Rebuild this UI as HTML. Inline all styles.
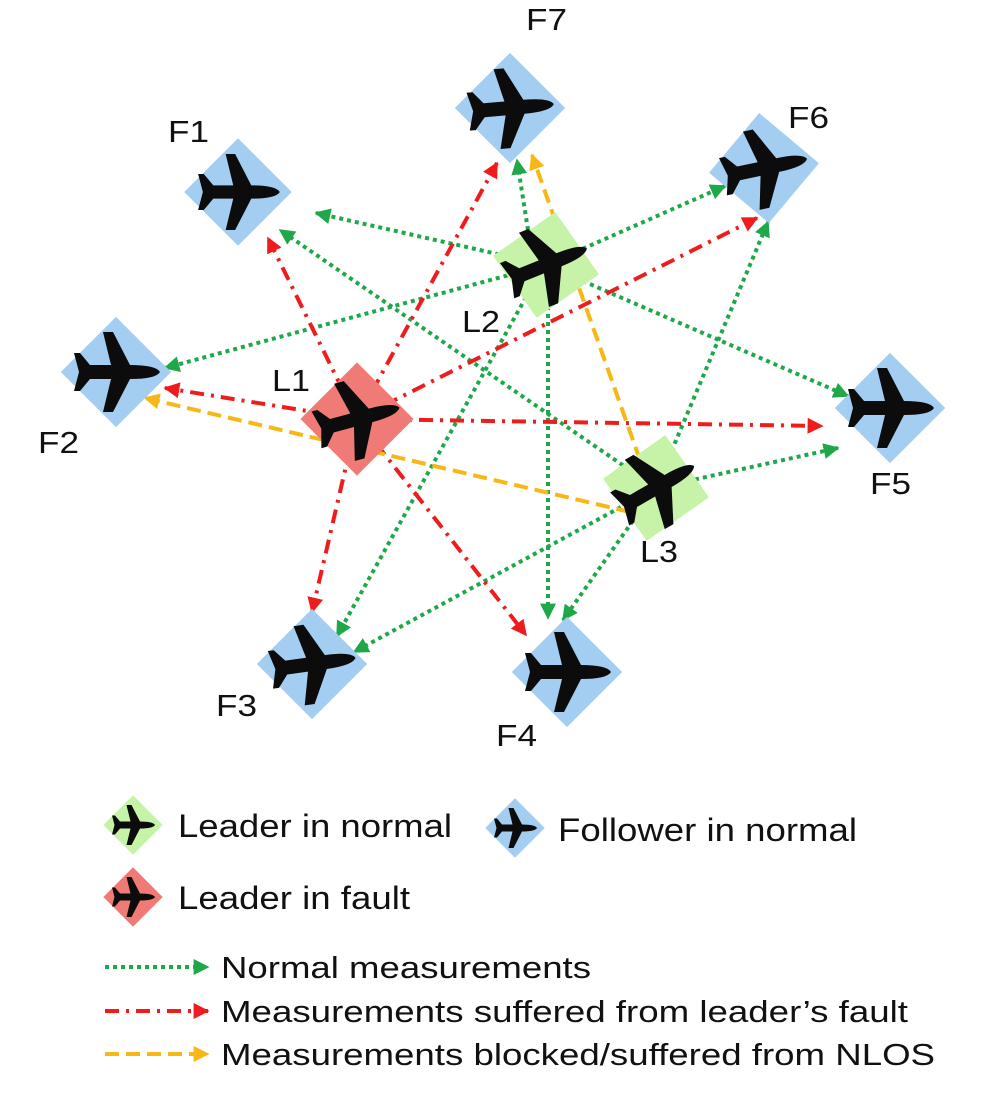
<!DOCTYPE html>
<html><head><meta charset="utf-8"><style>
html,body{margin:0;padding:0;background:#fff;}
svg{display:block;}
text{font-family:"Liberation Sans",Arial,sans-serif;fill:#111;}
</style></head><body>
<svg width="996" height="1095" viewBox="0 0 996 1095" xmlns="http://www.w3.org/2000/svg">
<defs>
<path id="pl" d="M44,0 Q40,-7 14,-7 L-3,-40 L-13,-40 L-5,-7 L-26,-7 L-36,-19 L-42,-19 L-37,0 L-42,19 L-36,19 L-26,7 L-5,7 L-13,40 L-3,40 L14,7 Q40,7 44,0Z" fill="#0c0c0c"/>
<marker id="ag" viewBox="0 0 10 10" refX="9" refY="5" markerWidth="4" markerHeight="4" orient="auto" markerUnits="strokeWidth"><path d="M0,0L10,5L0,10z" fill="#1ea84a"/></marker>
<marker id="ar" viewBox="0 0 10 10" refX="9" refY="5" markerWidth="4" markerHeight="4" orient="auto" markerUnits="strokeWidth"><path d="M0,0L10,5L0,10z" fill="#ee1c1c"/></marker>
<marker id="ao" viewBox="0 0 10 10" refX="9" refY="5" markerWidth="4" markerHeight="4" orient="auto" markerUnits="strokeWidth"><path d="M0,0L10,5L0,10z" fill="#f7b716"/></marker>
</defs>

<g fill="none" stroke-width="4">
<g stroke="#1ea84a" stroke-dasharray="4 4" marker-end="url(#ag)">
<line x1="546" y1="265" x2="316" y2="213"/>
<line x1="528" y1="230" x2="517" y2="160"/>
<line x1="546" y1="265" x2="725" y2="186"/>
<line x1="546" y1="265" x2="165" y2="368"/>
<line x1="546" y1="265" x2="848" y2="396"/>
<line x1="548" y1="290" x2="548" y2="618"/>
<line x1="530" y1="290" x2="337" y2="636"/>
<line x1="656" y1="488" x2="280" y2="230"/>
<line x1="656" y1="488" x2="768" y2="222"/>
<line x1="656" y1="488" x2="838" y2="448"/>
<line x1="656" y1="488" x2="563" y2="620"/>
<line x1="656" y1="488" x2="354" y2="652"/>
</g>
<g stroke="#ee1c1c" stroke-dasharray="14 7 3 7" marker-end="url(#ar)">
<line x1="357" y1="419" x2="268" y2="238"/>
<line x1="357" y1="419" x2="497" y2="163"/>
<line x1="357" y1="419" x2="757" y2="218"/>
<line x1="357" y1="419" x2="165" y2="388"/>
<line x1="357" y1="419" x2="822" y2="426"/>
<line x1="357" y1="419" x2="312" y2="612"/>
<line x1="357" y1="419" x2="526" y2="635"/>
</g>
<g stroke="#f7b716" stroke-dasharray="14 7" marker-end="url(#ao)">
<line x1="640" y1="460" x2="532" y2="155"/>
<line x1="630" y1="512" x2="145" y2="398"/>
</g>
</g>

<g>
<g transform="translate(510,108)"><rect x="-39" y="-39" width="78" height="78" fill="#a3cdf1" transform="rotate(45)"/><use href="#pl" transform="rotate(-5)"/></g>
<g transform="translate(238,192)"><rect x="-38" y="-38" width="76" height="76" fill="#a3cdf1" transform="rotate(45)"/><use href="#pl" transform="scale(0.95)"/></g>
<g transform="translate(764,168)"><rect x="-39" y="-39" width="78" height="78" fill="#a3cdf1" transform="rotate(40)"/><use href="#pl" transform="rotate(-12)"/></g>
<g transform="translate(546,265)"><rect x="-38" y="-38" width="76" height="76" fill="#c6f3a8" transform="rotate(55)"/><use href="#pl" transform="rotate(-22)"/></g>
<g transform="translate(116,372)"><rect x="-39" y="-39" width="78" height="78" fill="#a3cdf1" transform="rotate(45)"/><use href="#pl"/></g>
<g transform="translate(357,419)"><rect x="-40" y="-40" width="80" height="80" fill="#f07b76" transform="rotate(45)"/><use href="#pl" transform="rotate(-15)"/></g>
<g transform="translate(890,408)"><rect x="-39" y="-39" width="78" height="78" fill="#a3cdf1" transform="rotate(45)"/><use href="#pl"/></g>
<g transform="translate(656,488)"><rect x="-38" y="-38" width="76" height="76" fill="#c6f3a8" transform="rotate(55)"/><use href="#pl" transform="rotate(-30)"/></g>
<g transform="translate(312,664)"><rect x="-39" y="-39" width="78" height="78" fill="#a3cdf1" transform="rotate(45)"/><use href="#pl" transform="rotate(-8)"/></g>
<g transform="translate(567,672)"><rect x="-39" y="-39" width="78" height="78" fill="#a3cdf1" transform="rotate(45)"/><use href="#pl"/></g>
</g>

<g font-size="31">
<text x="526" y="30" textLength="41" lengthAdjust="spacingAndGlyphs">F7</text>
<text x="168" y="142" textLength="41" lengthAdjust="spacingAndGlyphs">F1</text>
<text x="788" y="128" textLength="41" lengthAdjust="spacingAndGlyphs">F6</text>
<text x="462" y="332" textLength="38" lengthAdjust="spacingAndGlyphs">L2</text>
<text x="272" y="391" textLength="38" lengthAdjust="spacingAndGlyphs">L1</text>
<text x="38" y="453" textLength="41" lengthAdjust="spacingAndGlyphs">F2</text>
<text x="870" y="494" textLength="41" lengthAdjust="spacingAndGlyphs">F5</text>
<text x="640" y="562" textLength="38" lengthAdjust="spacingAndGlyphs">L3</text>
<text x="216" y="716" textLength="41" lengthAdjust="spacingAndGlyphs">F3</text>
<text x="496" y="746" textLength="41" lengthAdjust="spacingAndGlyphs">F4</text>
</g>

<g transform="translate(133,825)"><rect x="-21" y="-21" width="42" height="42" fill="#c6f3a8" transform="rotate(45)"/><use href="#pl" transform="scale(0.5)"/></g>
<g transform="translate(515,828)"><rect x="-21" y="-21" width="42" height="42" fill="#a3cdf1" transform="rotate(45)"/><use href="#pl" transform="scale(0.5)"/></g>
<g transform="translate(133,897)"><rect x="-21" y="-21" width="42" height="42" fill="#f07b76" transform="rotate(45)"/><use href="#pl" transform="scale(0.5)"/></g>
<g font-size="32">
<text x="178" y="837" textLength="274" lengthAdjust="spacingAndGlyphs">Leader in normal</text>
<text x="558" y="841" textLength="299" lengthAdjust="spacingAndGlyphs">Follower in normal</text>
<text x="178" y="909" textLength="232" lengthAdjust="spacingAndGlyphs">Leader in fault</text>
</g>
<g fill="none" stroke-width="4">
<line x1="105" y1="967" x2="208" y2="967" stroke="#1ea84a" stroke-dasharray="4 4" marker-end="url(#ag)"/>
<line x1="105" y1="1011" x2="208" y2="1011" stroke="#ee1c1c" stroke-dasharray="14 7 3 7" marker-end="url(#ar)"/>
<line x1="105" y1="1054" x2="208" y2="1054" stroke="#f7b716" stroke-dasharray="14 7" marker-end="url(#ao)"/>
</g>
<g font-size="31">
<text x="221" y="978" textLength="370" lengthAdjust="spacingAndGlyphs">Normal measurements</text>
<text x="221" y="1022" textLength="687" lengthAdjust="spacingAndGlyphs">Measurements suffered from leader’s fault</text>
<text x="221" y="1065" textLength="714" lengthAdjust="spacingAndGlyphs">Measurements blocked/suffered from NLOS</text>
</g>
</svg>
</body></html>
